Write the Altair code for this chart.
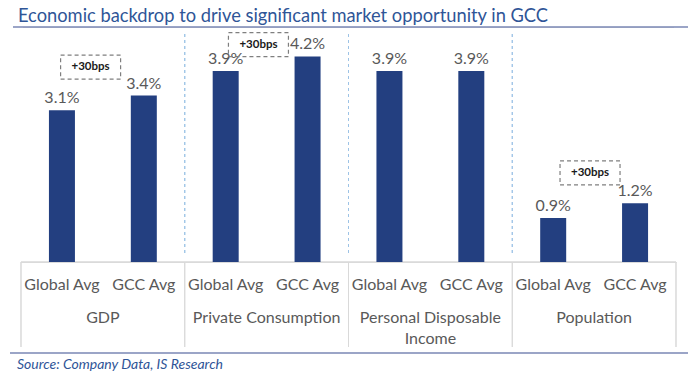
import altair as alt
import pandas as pd

title_text = "Economic backdrop to drive significant market opportunity in GCC"
source_text = "Source: Company Data, IS Research"
categories = ["GDP", "Private Consumption", "Personal Disposable", "Population"]
categories_line2 = ["", "", "Income", ""]
series = ["Global Avg", "GCC Avg"]
global_avg = [3.1, 3.9, 3.9, 0.9]
gcc_avg = [3.4, 4.2, 3.9, 1.2]
callout_labels = ["+30bps", "+30bps", "+30bps"]
callout_x = [0.35, 2.40, 6.45]
callout_y = [3.98, 4.44, 1.82]

FONT = "Lato"
BAR = "#233f80"
GREY = "#595959"
BLUE = "#2f5597"
LINE = "#7b88b5"

W, H = 655, 235
XMIN, XMAX = -0.5, 7.5
YMAX = 4.8
PX = W / (XMAX - XMIN)   # pixels per x unit
PY = H / YMAX            # pixels per y unit


def dx(px):
    return XMIN + px / PX


def dy_(py):
    return (H - py) / PY


recs = []


def add(kind, x=None, x2=None, y=None, y2=None, text=None):
    recs.append({"kind": kind, "x": x, "x2": x2, "y": y, "y2": y2, "text": text})


bounds = [2 * g - 0.5 for g in range(len(categories) + 1)]
for b in (XMIN, XMAX):
    add("cover", dx((b - XMIN) * PX - 2), dx((b - XMIN) * PX + 2), 0.0, YMAX)
for b in bounds:
    add("grey", b, b, 0.0, dy_(320))
add("grey", XMIN, XMAX, 0.0, 0.0)
for b in bounds[1:-1]:
    add("blue", b, b, dy_(7), dy_(7 + 220.5))
add("frame", dx(-8), dx(667), YMAX, YMAX)
add("frame", dx(-11), dx(667), dy_(326), dy_(326))

for g in range(len(categories)):
    vals_g = [global_avg[g], gcc_avg[g]]
    for s in range(len(series)):
        i = 2 * g + s
        add("bar", i, None, vals_g[s], None)
        add("val", i, None, vals_g[s], None, f"{vals_g[s]:.1f}%")
        add("ser", i, None, dy_(263), None, series[s])
    add("cat1", 2 * g + 0.5, None, dy_(296), None, categories[g])
    if categories_line2[g]:
        add("cat2", 2 * g + 0.5, None, dy_(317), None, categories_line2[g])

bw, bh = 30 / PX, 12 / PY
for cx, cy, t in zip(callout_x, callout_y, callout_labels):
    add("box", cx - bw, cx + bw, cy - bh, cy + bh)
    add("boxtxt", cx, None, cy, None, t)

add("title", dx(-3), None, dy_(-5), None, title_text)
add("source", dx(-4), None, dy_(342), None, source_text)

df = pd.DataFrame(recs)
base = alt.Chart(df)


def X(f="x"):
    return alt.X(f + ":Q", scale=alt.Scale(domain=[XMIN, XMAX], padding=0, nice=False, zero=False), axis=None)


def Y(f="y"):
    return alt.Y(f + ":Q", scale=alt.Scale(domain=[0, YMAX], padding=0, nice=False), axis=None)


def only(kind):
    return base.transform_filter(alt.datum.kind == kind)


cover = only("cover").mark_rect(color="white").encode(x=X(), x2="x2:Q", y=Y(), y2="y2:Q")
grey_l = only("grey").mark_rect(fillOpacity=0, stroke="#d9d9d9", strokeWidth=1).encode(
    x=X(), x2="x2:Q", y=Y(), y2="y2:Q")
blue_l = only("blue").mark_rect(fillOpacity=0, stroke="#9dc3e6", strokeWidth=1, strokeDash=[3, 3]).encode(
    x=X(), x2="x2:Q", y=Y(), y2="y2:Q")
frame_l = only("frame").mark_rect(fillOpacity=0, stroke=LINE, strokeWidth=1.5).encode(
    x=X(), x2="x2:Q", y=Y(), y2="y2:Q")

bars = only("bar").mark_bar(size=26, color=BAR).encode(x=X(), y=Y())
vals = only("val").mark_text(font=FONT, fontSize=16, color=GREY, dy=-7, baseline="alphabetic").encode(
    x=X(), y=Y(), text="text:N")
ser_lbl = only("ser").mark_text(font=FONT, fontSize=16, color=GREY, baseline="alphabetic").encode(
    x=X(), y=Y(), text="text:N")
cat_lbl1 = only("cat1").mark_text(font=FONT, fontSize=16, color=GREY, baseline="alphabetic").encode(
    x=X(), y=Y(), text="text:N")
cat_lbl2 = only("cat2").mark_text(font=FONT, fontSize=16, color=GREY, baseline="alphabetic").encode(
    x=X(), y=Y(), text="text:N")

boxes = only("box").mark_rect(fillOpacity=0, stroke="#7f7f7f", strokeWidth=1.2, strokeDash=[4, 3]).encode(
    x=X(), x2="x2:Q", y=Y(), y2="y2:Q")
box_txt = only("boxtxt").mark_text(font=FONT, fontSize=11.5, color="#1a1a1a", fontWeight="bold").encode(
    x=X(), y=Y(), text="text:N")

title = only("title").mark_text(font=FONT, fontSize=18.3, color=BLUE, align="left", baseline="alphabetic").encode(
    x=X(), y=Y(), text="text:N")
source = only("source").mark_text(font=FONT, fontSize=14, fontStyle="italic", color=BLUE,
                                  align="left", baseline="alphabetic").encode(
    x=X(), y=Y(), text="text:N")

chart = alt.layer(
    cover, grey_l, blue_l, bars, vals, ser_lbl, cat_lbl1, cat_lbl2, boxes, box_txt,
    title, frame_l, source
).properties(
    width=W, height=H,
    autosize=alt.AutoSizeParams(type="none"),
    padding={"left": 13, "top": 19, "right": 16, "bottom": 111},
)

chart.save("out.html", embed_options={"renderer": "svg", "actions": False})
